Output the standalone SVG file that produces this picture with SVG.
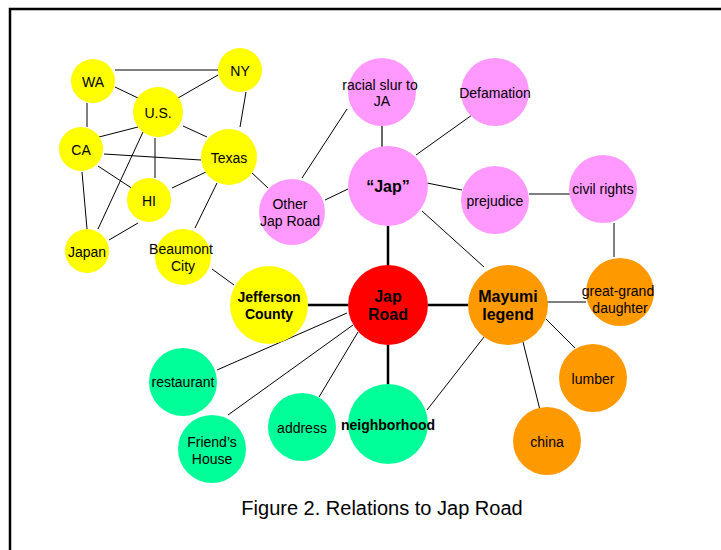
<svg xmlns="http://www.w3.org/2000/svg" width="721" height="550" viewBox="0 0 721 550">
<style>
text{font-family:"Liberation Sans",Arial,sans-serif;font-size:14px;fill:#000;text-anchor:middle}
.b{font-weight:bold}
.big{font-size:16px}
.y{fill:#FFFF00}.p{fill:#FF99FF}.r{fill:#FF0000}.o{fill:#FF9900}.g{fill:#00FF99}
.e line{stroke:#000;stroke-width:1}
.e .t{stroke-width:2.5}
</style>
<rect x="10" y="9" width="730" height="560" fill="#fff" stroke="#000" stroke-width="2.5"/>
<g id="connectors" class="e">
<line x1="115" y1="70" x2="218" y2="70"/>
<line x1="115" y1="87" x2="138" y2="98"/>
<line x1="218" y1="75" x2="178" y2="98"/>
<line x1="246" y1="92" x2="240" y2="127"/>
<line x1="87" y1="103" x2="87" y2="127"/>
<line x1="138" y1="127" x2="99" y2="137"/>
<line x1="183" y1="126" x2="207" y2="137"/>
<line x1="155" y1="138" x2="155" y2="178"/>
<line x1="143" y1="132" x2="98" y2="229"/>
<line x1="104" y1="154" x2="201" y2="160"/>
<line x1="98" y1="166" x2="133" y2="189"/>
<line x1="82" y1="172" x2="87" y2="229"/>
<line x1="206" y1="172" x2="172" y2="188"/>
<line x1="138" y1="223" x2="109" y2="240"/>
<line x1="251" y1="172" x2="268" y2="188"/>
<line x1="217" y1="183" x2="195" y2="228"/>
<line x1="212" y1="269" x2="234" y2="285"/>
<line x1="302" y1="178" x2="347" y2="109"/>
<line x1="325" y1="200" x2="348" y2="189"/>
<line x1="382" y1="126" x2="382" y2="149" style="stroke:#666;stroke-width:2"/>
<line x1="472" y1="115" x2="416" y2="155"/>
<line x1="427" y1="183" x2="462" y2="190"/>
<line x1="529" y1="194" x2="570" y2="194"/>
<line x1="614" y1="223" x2="614" y2="257"/>
<line x1="422" y1="211" x2="484" y2="267"/>
<line class="t" x1="388" y1="226" x2="388" y2="266"/>
<line class="t" x1="308" y1="305" x2="348" y2="305"/>
<line class="t" x1="428" y1="305" x2="468" y2="305"/>
<line class="t" x1="388" y1="345" x2="388" y2="385"/>
<line x1="217" y1="370" x2="347" y2="313"/>
<line x1="228" y1="415" x2="353" y2="325"/>
<line x1="319" y1="397" x2="358" y2="332"/>
<line x1="427" y1="410" x2="484" y2="337"/>
<line x1="547" y1="302" x2="586" y2="302"/>
<line x1="546" y1="319" x2="575" y2="348"/>
<line x1="523" y1="342" x2="540" y2="410"/>
</g>
<g id="WA"><circle class="y" cx="93" cy="81" r="22"/><text x="93" y="87">WA</text></g>
<g id="NY"><circle class="y" cx="240" cy="70" r="22"/><text x="240" y="76">NY</text></g>
<g id="US"><circle class="y" cx="158" cy="112" r="25"/><text x="158" y="118">U.S.</text></g>
<g id="CA"><circle class="y" cx="81" cy="149" r="22"/><text x="81" y="155">CA</text></g>
<g id="Texas"><circle class="y" cx="229" cy="157" r="28"/><text x="229" y="163">Texas</text></g>
<g id="HI"><circle class="y" cx="149" cy="200" r="22"/><text x="149" y="206">HI</text></g>
<g id="Japan"><circle class="y" cx="87" cy="251" r="22"/><text x="87" y="257">Japan</text></g>
<g id="Beaumont"><circle class="y" cx="183" cy="257" r="28"/><text x="181" y="254">Beaumont</text><text x="183" y="271">City</text></g>
<g id="Jefferson"><circle class="y" cx="269" cy="305" r="39"/><text class="b" x="269" y="302">Jefferson</text><text class="b" x="269" y="319">County</text></g>
<g id="OtherJapRoad"><circle class="p" cx="292" cy="212" r="33"/><text x="290" y="209">Other</text><text x="290" y="226">Jap Road</text></g>
<g id="racialslur"><circle class="p" cx="382" cy="92" r="34"/><text x="380" y="90">racial slur to</text><text x="382" y="106">JA</text></g>
<g id="Defamation"><circle class="p" cx="495" cy="92" r="34"/><text x="495" y="98">Defamation</text></g>
<g id="Jap"><circle class="p" cx="388" cy="186" r="40"/><text class="b big" x="388" y="192">“Jap”</text></g>
<g id="prejudice"><circle class="p" cx="495" cy="200" r="34"/><text x="495" y="206">prejudice</text></g>
<g id="civilrights"><circle class="p" cx="603" cy="189" r="34"/><text x="603" y="194">civil rights</text></g>
<g id="JapRoad"><circle class="r" cx="388" cy="305" r="40"/><text class="b big" x="388" y="302">Jap</text><text class="b big" x="388" y="320">Road</text></g>
<g id="Mayumi"><circle class="o" cx="508" cy="305" r="40"/><text class="b big" x="508" y="302">Mayumi</text><text class="b big" x="508" y="320">legend</text></g>
<g id="greatgrand"><circle class="o" cx="620" cy="292" r="34"/><text x="618" y="296">great-grand</text><text x="620" y="313">daughter</text></g>
<g id="lumber"><circle class="o" cx="593" cy="378" r="34"/><text x="593" y="384">lumber</text></g>
<g id="china"><circle class="o" cx="547" cy="441" r="34"/><text x="547" y="447">china</text></g>
<g id="neighborhood"><circle class="g" cx="388" cy="424" r="40"/><text class="b" x="388" y="430">neighborhood</text></g>
<g id="restaurant"><circle class="g" cx="183" cy="382" r="34"/><text x="183" y="387">restaurant</text></g>
<g id="FriendsHouse"><circle class="g" cx="212" cy="449" r="34"/><text x="212" y="447">Friend’s</text><text x="212" y="464">House</text></g>
<g id="address"><circle class="g" cx="302" cy="427" r="34"/><text x="302" y="433">address</text></g>
<text x="382" y="515" style="font-size:20px">Figure 2. Relations to Jap Road</text>
</svg>
